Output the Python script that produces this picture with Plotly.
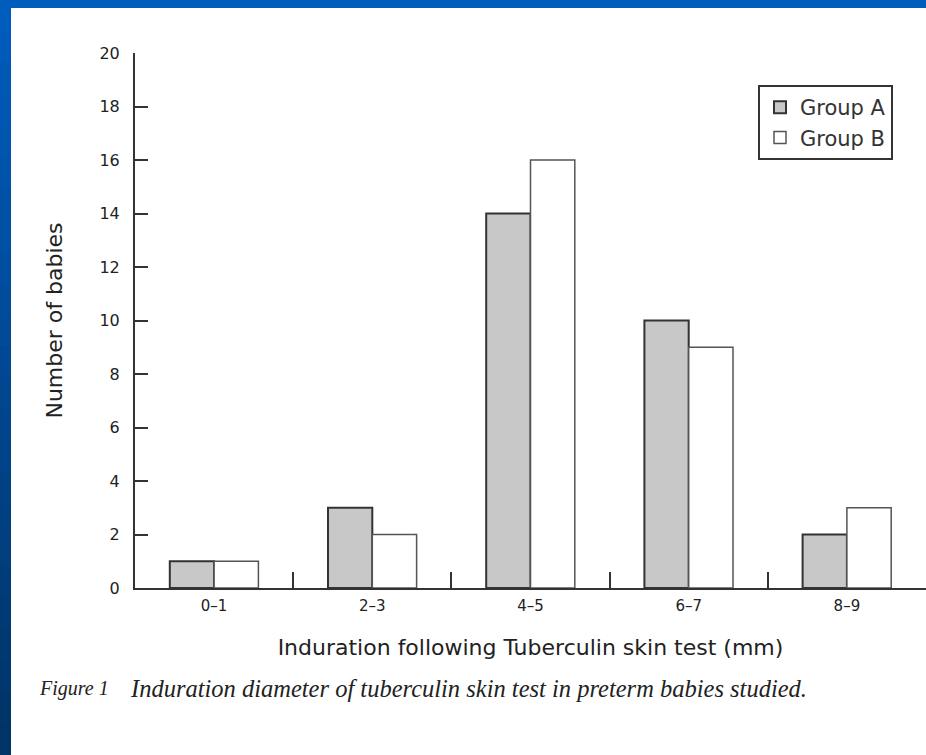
import plotly.graph_objects as go

categories = ["0\u20131", "2\u20133", "4\u20135", "6\u20137", "8\u20139"]
group_a = [1, 3, 14, 10, 2]
group_b = [1, 2, 16, 9, 3]
y_ticks = [0, 2, 4, 6, 8, 10, 12, 14, 16, 18, 20]

W, H = 926, 755
L, R, T, B = 135, 0, 53, 167
PW, PH = W - L - R, H - T - B

def px(x):
    return (x - L) / PW

def py(y):
    return (H - B - y) / PH

pos = list(range(len(categories)))

fig = go.Figure()
fig.add_trace(go.Bar(x=pos, y=group_a, name="Group A",
                     marker=dict(color="#c8c8c8", line=dict(color="#333333", width=2))))
fig.add_trace(go.Bar(x=pos, y=group_b, name="Group B",
                     marker=dict(color="#ffffff", line=dict(color="#555555", width=1.5))))
# invisible trace to host the secondary axis with boundary ticks
fig.add_trace(go.Scatter(x=[-0.5, 4.5], y=[0, 0], xaxis="x2", mode="lines",
                         line=dict(width=0), showlegend=False, hoverinfo="skip"))

shapes = []
# slide frame: top band
shapes.append(dict(type="rect", xref="paper", yref="paper", x0=px(0), x1=px(W), y0=py(0), y1=py(8),
                   fillcolor="#005cbd", line=dict(width=0), layer="below"))
# left band gradient
n = 24
c0 = (0x00, 0x5c, 0xbd)
c1 = (0x00, 0x33, 0x66)
for i in range(n):
    t = i / (n - 1)
    col = "rgb(%d,%d,%d)" % tuple(round(a + (b - a) * t) for a, b in zip(c0, c1))
    y0p = H * i / n
    y1p = H * (i + 1) / n + 1
    shapes.append(dict(type="rect", xref="paper", yref="paper", x0=px(0), x1=px(11),
                       y0=py(y0p), y1=py(y1p), fillcolor=col, line=dict(width=0), layer="below"))

fig.update_layout(
    width=W, height=H,
    margin=dict(l=L, r=R, t=T, b=B),
    paper_bgcolor="white", plot_bgcolor="white",
    barmode="group", bargap=0.44, bargroupgap=0,
    font=dict(family="DejaVu Sans", color="#222222"),
    shapes=shapes,
    showlegend=True,
    legend=dict(x=px(758), y=py(85), xanchor="left", yanchor="top",
                bordercolor="#333333", borderwidth=2, bgcolor="white",
                font=dict(size=21, family="DejaVu Sans", color="#333333"),
                tracegroupgap=0, itemwidth=30),
    xaxis=dict(range=[-0.5, 4.5], tickmode="array", tickvals=pos, ticktext=categories,
               ticks="", showgrid=False, zeroline=False,
               showline=True, linecolor="#333333", linewidth=2,
               tickfont=dict(size=15, family="DejaVu Sans", color="#222222"),
               ticklabelstandoff=3,
               title=dict(text="Induration following Tuberculin skin test (mm)",
                          font=dict(size=22, family="DejaVu Sans", color="#222222"), standoff=26)),
    xaxis2=dict(range=[-0.5, 4.5], overlaying="x", anchor="y", side="bottom",
                tickmode="array", tickvals=[0.5, 1.5, 2.5, 3.5], ticks="inside",
                ticklen=16, tickwidth=2, tickcolor="#333333",
                showticklabels=False, showgrid=False, zeroline=False, showline=False),
    yaxis=dict(range=[0, 20], tickmode="array", tickvals=y_ticks,
               ticks="inside", ticklen=13, tickwidth=2, tickcolor="#333333",
               showgrid=False, zeroline=False, showline=True, linecolor="#333333", linewidth=2,
               tickfont=dict(size=16, family="DejaVu Sans", color="#222222"),
               ticklabelstandoff=10,
               title=dict(text="Number of babies",
                          font=dict(size=22, family="DejaVu Sans", color="#222222"), standoff=31)),
    annotations=[
        dict(text="<i>Figure 1</i>",
             xref="paper", yref="paper", x=px(37), y=py(688), xanchor="left", yanchor="middle",
             showarrow=False, font=dict(size=20, family="Liberation Serif", color="#222222")),
        dict(text="<i>Induration diameter of tuberculin skin test in preterm babies studied.</i>",
             xref="paper", yref="paper", x=px(128), y=py(688), xanchor="left", yanchor="middle",
             showarrow=False, font=dict(size=24.5, family="Liberation Serif", color="#222222")),
    ],
)

fig.write_html("out.html",
               config={"displayModeBar": False},
               post_script="document.documentElement.style.overflow='hidden';"
                           "document.body.style.margin='0';document.body.style.overflow='hidden';")
